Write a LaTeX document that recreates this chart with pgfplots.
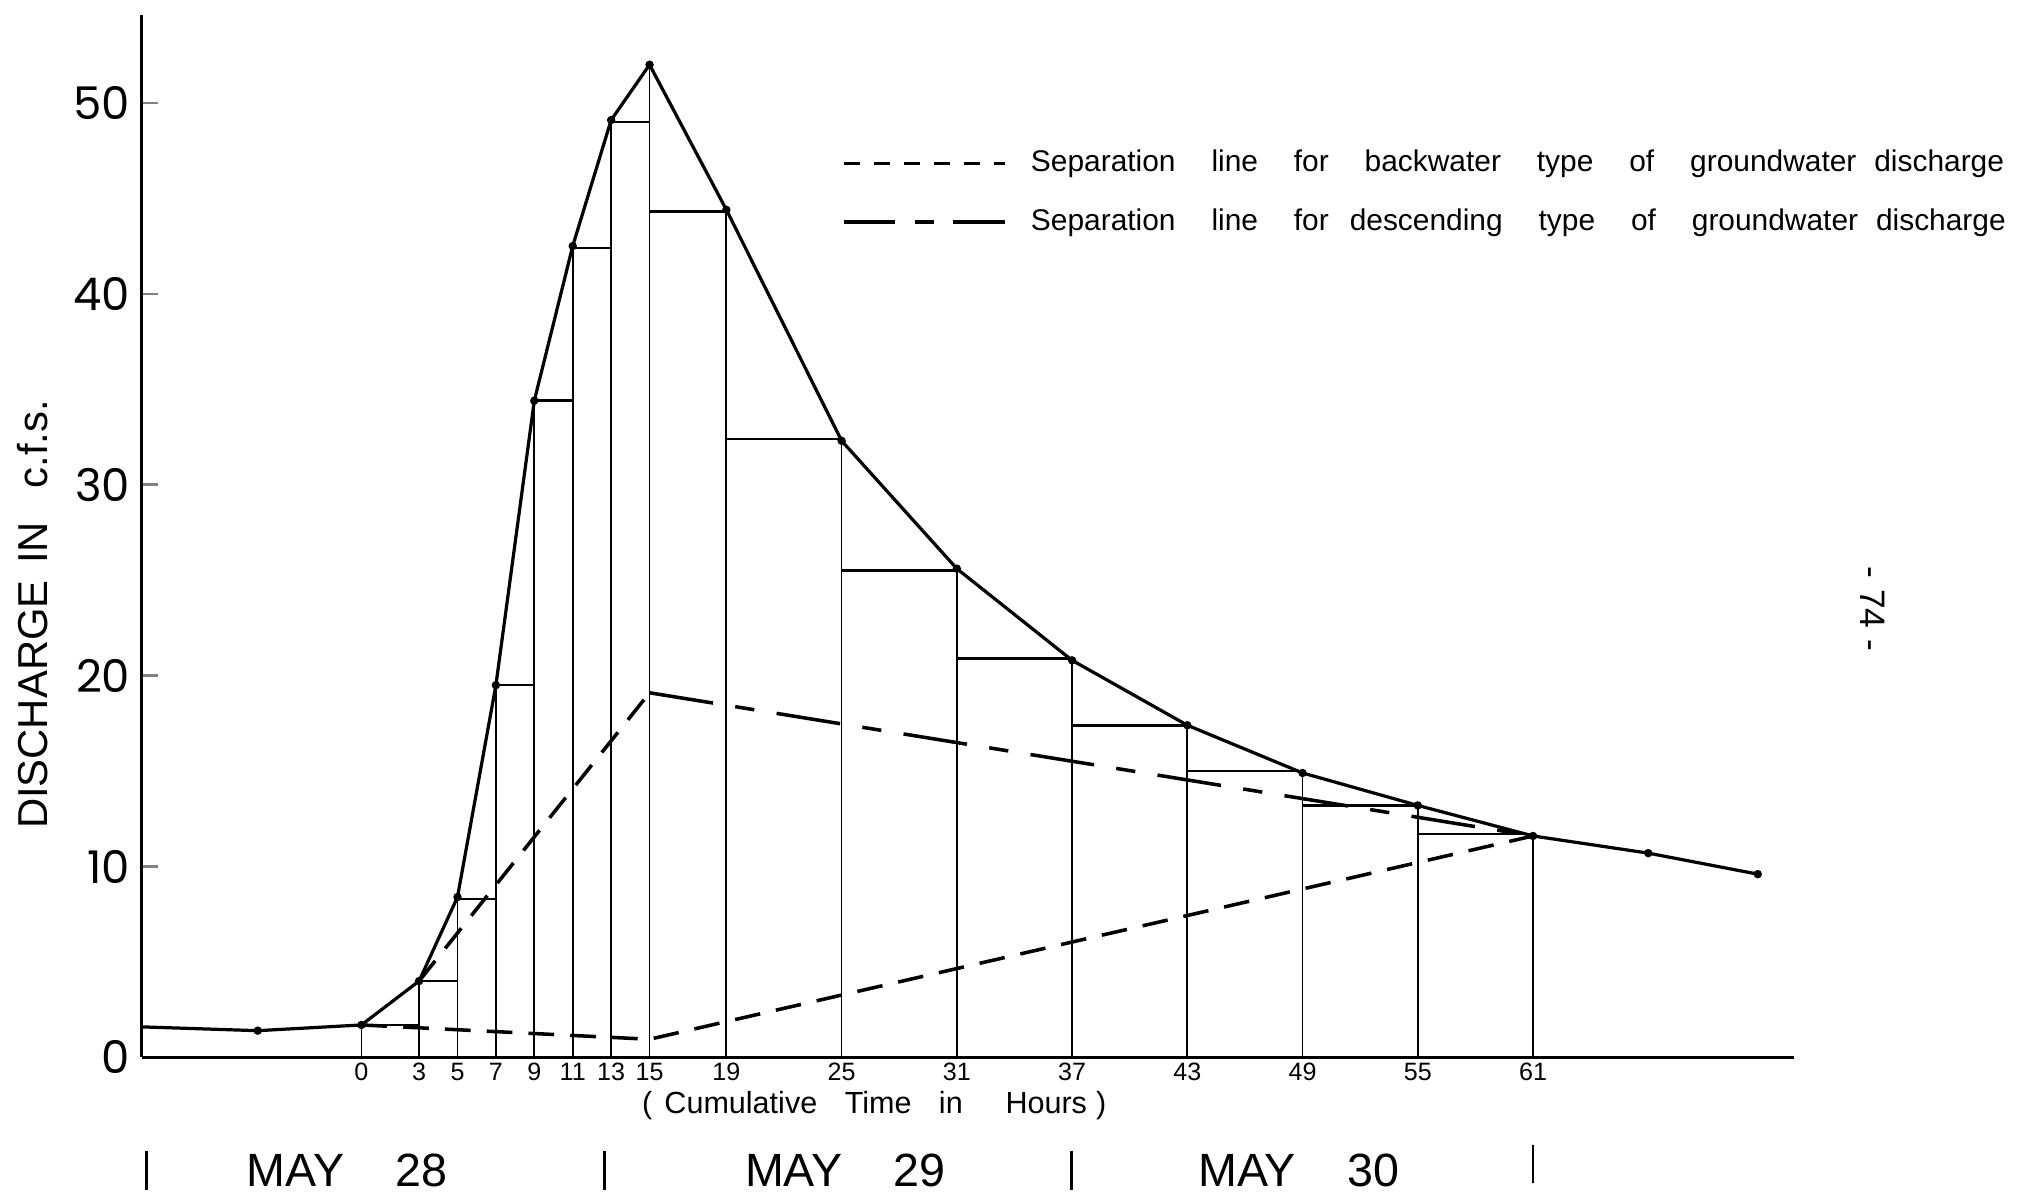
\documentclass[border=0pt]{standalone}
\usepackage{fontspec}
\setmainfont{Liberation Sans}
\newfontfamily\geo{Poppins}
\usepackage{pgfplots}
\pgfplotsset{compat=1.18}
\usepackage{pgfplotstable}

% main hydrograph (hours, cfs)
\pgfplotstableread{
t q
-11.45 1.6
-5.4 1.4
0 1.7
3 4.0
5 8.4
7 19.5
9 34.4
11 42.5
13 49.1
15 52.0
19 44.4
25 32.3
31 25.6
37 20.8
43 17.4
49 14.9
55 13.2
61 11.6
67.0 10.7
72.7 9.6
}\hydro

% vertical lines at the time marks
\pgfplotstableread{
t q
0 1.7
3 4.0
5 8.4
7 19.5
9 34.4
11 42.5
13 49.1
15 52.0
19 44.4
25 32.3
31 25.6
37 20.8
43 17.4
49 14.9
55 13.2
61 11.6
}\verts

% horizontal step segments
\pgfplotstableread{
t q
0 1.7
3 1.7
nan nan
3 4.0
5 4.0
nan nan
5 8.3
7 8.3
nan nan
7 19.5
9 19.5
nan nan
9 34.4
11 34.4
nan nan
11 42.4
13 42.4
nan nan
13 49.0
15 49.0
nan nan
15 44.3
19 44.3
nan nan
19 32.4
25 32.4
nan nan
25 25.5
31 25.5
nan nan
31 20.9
37 20.9
nan nan
37 17.4
43 17.4
nan nan
43 15.0
49 15.0
nan nan
49 13.2
55 13.2
nan nan
55 11.7
61 11.7
}\steps

% separation line, backwater type
\pgfplotstableread{
t q
0 1.7
15 0.95
61 11.6
}\backwater

% separation line, descending type
\pgfplotstableread{
t q
3 4.0
15 19.1
}\descup
\pgfplotstableread{
t q
15 19.1
61 11.6
}\descdown

\begin{document}
\begin{tikzpicture}
\begin{axis}[
  x=5.972pt, y=5.936pt,
  xmin=-11.45, xmax=74.6, ymin=0, ymax=54.6,
  axis x line=bottom, axis y line=left,
  axis line style={-, line width=1pt},
  xtick={0,3,5,7,9,11,13,15,19,25,31,37,43,49,55,61},
  x tick style={draw=none},
  x tick label style={font=\fontsize{7.8}{8}\selectfont, inner sep=1.5pt},
  ytick={0,10,20,30,40,50},
  y tick style={line width=0.8pt},
  tick align=inside, major tick length=5pt,
  y tick label style={font=\geo\fontsize{14}{16}\selectfont},
  /pgf/number format/assume math mode=true,
  clip=false,
  unbounded coords=jump,
  legend style={at={(axis cs:25.0,47.9)}, anchor=north west, draw=none, fill=none,
    font=\fontsize{9.3}{11}\selectfont, row sep=6pt, inner sep=0pt},
  legend cell align=left,
  legend image code/.code={\draw[#1] (0pt,0pt) -- (50pt,0pt);},
]
\addplot[forget plot, black, line width=0.55pt, ycomb] table[x=t,y=q]{\verts};
\addplot[forget plot, black, line width=0.8pt] table[x=t,y=q]{\steps};
\addplot[forget plot, black, line width=1pt] table[x=t,y=q]{\hydro};
\addplot[forget plot, black, only marks, mark=*, mark size=1.1pt,
  skip coords between index={0}{1}] table[x=t,y=q]{\hydro};
\addplot[forget plot, black, line width=1.1pt, dash pattern=on 8pt off 5pt] table[x=t,y=q]{\backwater};
\addplot[forget plot, black, line width=1.1pt, dash pattern=on 8pt off 5pt] table[x=t,y=q]{\descup};
\addplot[forget plot, black, line width=1.1pt, dash pattern=on 20pt off 7pt on 6pt off 7pt] table[x=t,y=q]{\descdown};

\addlegendimage{black, line width=1.1pt, dash pattern=on 5pt off 4.3pt}
\addlegendentry{\hspace{0.6em}Separation\hspace{1.2em}line\hspace{1.2em}for\hspace{1.2em}backwater\hspace{1.2em}type\hspace{1.2em}of\hspace{1.2em}groundwater\hspace{0.6em}discharge}
\addlegendimage{black, line width=1.1pt, dash pattern=on 16pt off 6pt on 6pt off 6pt}
\addlegendentry{\hspace{0.6em}Separation\hspace{1.2em}line\hspace{1.2em}for\hspace{0.7em}descending\hspace{1.2em}type\hspace{1.2em}of\hspace{1.2em}groundwater\hspace{0.6em}discharge}

% annotations
\node[font=\fontsize{9.5}{11}\selectfont, inner sep=0pt] at (axis cs:26.7,-2.5) {(\hspace{0.4em}Cumulative\hspace{0.9em}Time\hspace{0.9em}in\hspace{1.4em}Hours\hspace{0.3em})};
\node[font=\fontsize{14.5}{17}\selectfont] at (axis cs:-0.74,-5.93) {MAY\hspace{1.1em}28};
\node[font=\fontsize{14.5}{17}\selectfont] at (axis cs:25.2,-5.93) {MAY\hspace{1.1em}29};
\node[font=\fontsize{14.5}{17}\selectfont] at (axis cs:48.8,-5.93) {MAY\hspace{1.1em}30};
\draw[line width=0.8pt] (axis cs:-11.2,-4.9) -- (axis cs:-11.2,-6.95);
\draw[line width=0.8pt] (axis cs:12.66,-4.9) -- (axis cs:12.66,-6.95);
\draw[line width=0.8pt] (axis cs:36.97,-4.9) -- (axis cs:36.97,-6.95);
\draw[line width=0.8pt] (axis cs:61.0,-4.6) -- (axis cs:61.0,-6.6);
\node[rotate=90, font=\fontsize{13}{15}\selectfont] at (axis cs:-17.1,23.2) {DISCHARGE\hspace{0.4em}IN\hspace{0.8em}c.f.s.};
\node[rotate=-90, font=\fontsize{11}{13}\selectfont] at (axis cs:78.7,23.5) {-\hspace{0.3em}74\hspace{0.3em}-};
% page extent
\path (axis cs:-18.82,-7.48) rectangle (axis cs:86.2,55.39);
\end{axis}
\end{tikzpicture}
\end{document}
